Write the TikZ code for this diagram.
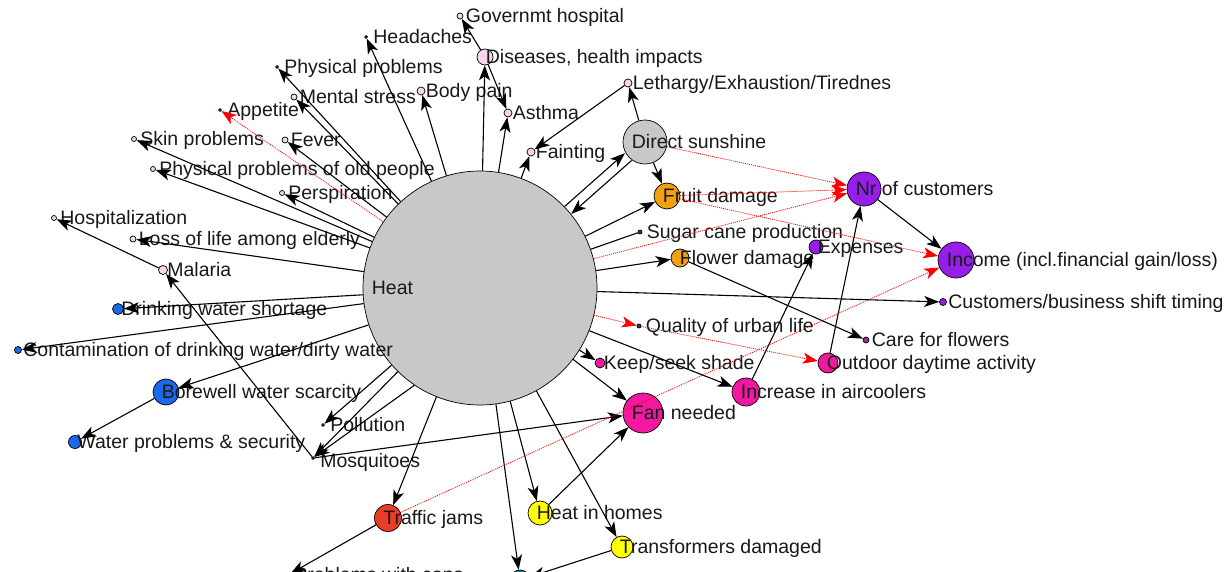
\documentclass[tikz,border=0pt]{standalone}
\usepackage{fontspec}
\setmainfont{Liberation Sans}
\usetikzlibrary{arrows.meta}
\definecolor{heatgray}{RGB}{200,200,200}
\definecolor{pinkish}{RGB}{246,214,234}
\definecolor{dotgray}{RGB}{60,60,60}
\definecolor{fruitorange}{RGB}{240,160,16}
\definecolor{custpurple}{RGB}{150,30,232}
\definecolor{fanpink}{RGB}{242,24,160}
\definecolor{waterblue}{RGB}{28,104,232}
\definecolor{trafficred}{RGB}{236,60,40}
\definecolor{homeyellow}{RGB}{255,255,0}
\definecolor{tealnode}{RGB}{0,130,130}
\definecolor{carepurple}{RGB}{160,40,150}
\tikzset{
  vtx/.style={circle, draw=black, line width=0.7pt, inner sep=0pt, minimum size=#1},
  lbl/.style={anchor=west, xshift=9pt, inner sep=0pt, text height=13.8pt, text depth=0pt,
    text=black!90, font=\fontsize{19.5}{22}\selectfont},
  imp/.style={line width=1.1pt, -{Stealth[length=15pt,width=11pt,inset=4pt]}},
  weak/.style={red, line width=0.8pt, dash pattern=on 1pt off 1pt,
    -{Stealth[length=15pt,width=11pt,inset=4pt]}}
}
\begin{document}
\begin{tikzpicture}[x=1pt,y=-1pt]
  \useasboundingbox (0,0) rectangle (1232,572);
  \clip (0,0) rectangle (1232,572);
  \fill[white] (0,0) rectangle (1232,572);
  % concepts
  \node[vtx=234, fill=heatgray, label={[lbl]west:Heat}] (heat) at (480,288) {};
  \node[vtx=6, fill=pinkish, label={[lbl]west:Governmt hospital}] (govhosp) at (460,16) {};
  \node[vtx=3, fill=dotgray, label={[lbl]west:Headaches}] (headache) at (366,37) {};
  \node[vtx=3, fill=dotgray, label={[lbl]west:Physical problems}] (physprob) at (277,67) {};
  \node[vtx=16, fill=pinkish, label={[lbl]west:Diseases, health impacts}] (diseases) at (485,57) {};
  \node[vtx=8, fill=pinkish, label={[lbl]west:Lethargy/Exhaustion/Tirednes}] (lethargy) at (628,83) {};
  \node[vtx=6, fill=pinkish, label={[lbl]west:Mental stress}] (mental) at (294,97) {};
  \node[vtx=8, fill=pinkish, label={[lbl]west:Body pain}] (bodypain) at (421,91) {};
  \node[vtx=3, fill=dotgray, label={[lbl]west:Appetite}] (appetite) at (220,110) {};
  \node[vtx=8, fill=pinkish, label={[lbl]west:Asthma}] (asthma) at (508,113) {};
  \node[vtx=5, fill=pinkish, label={[lbl]west:Skin problems}] (skin) at (134,139) {};
  \node[vtx=6, fill=pinkish, label={[lbl]west:Fever}] (fever) at (285,140) {};
  \node[vtx=8, fill=pinkish, label={[lbl]west:Fainting}] (fainting) at (531,152) {};
  \node[vtx=44, fill=heatgray, label={[lbl]west:Direct sunshine}] (direct) at (645,142) {};
  \node[vtx=5, fill=pinkish, label={[lbl]west:Physical problems of old people}] (oldpeople) at (153,169) {};
  \node[vtx=5, fill=pinkish, label={[lbl]west:Perspiration}] (perspir) at (282,193) {};
  \node[vtx=26, fill=fruitorange, label={[lbl]west:Fruit damage}] (fruit) at (667,196) {};
  \node[vtx=34, fill=custpurple, label={[lbl]west:Nr of customers}] (nrcust) at (864,189) {};
  \node[vtx=5, fill=pinkish, label={[lbl]west:Hospitalization}] (hospital) at (54,218) {};
  \node[vtx=4, fill=dotgray, label={[lbl]west:Sugar cane production}] (sugar) at (640,232) {};
  \node[vtx=6, fill=pinkish, label={[lbl]west:Loss of life among elderly}] (lossoflife) at (133,239) {};
  \node[vtx=14, fill=custpurple, label={[lbl]west:Expenses}] (expenses) at (816,247) {};
  \node[vtx=18, fill=fruitorange, label={[lbl]west:Flower damage}] (flower) at (680,258) {};
  \node[vtx=36, fill=custpurple, label={[lbl]west:Income (incl.financial gain/loss)}] (income) at (956,260) {};
  \node[vtx=9, fill=pinkish, label={[lbl]west:Malaria}] (malaria) at (163,270) {};
  \node[vtx=7, fill=custpurple, label={[lbl]west:Customers/business shift timing}] (shift) at (943,302) {};
  \node[vtx=11, fill=waterblue, label={[lbl]west:Drinking water shortage}] (drinkwater) at (118,309) {};
  \node[vtx=4, fill=dotgray, label={[lbl]west:Quality of urban life}] (quality) at (639,326) {};
  \node[vtx=6, fill=carepurple, label={[lbl]west:Care for flowers}] (care) at (866,340) {};
  \node[vtx=7, fill=waterblue, label={[lbl]west:Contamination of drinking water/dirty water}] (contam) at (18,350) {};
  \node[vtx=10, fill=fanpink, label={[lbl]west:Keep/seek shade}] (keepshade) at (600,363) {};
  \node[vtx=20, fill=fanpink, label={[lbl]west:Outdoor daytime activity}] (outdoor) at (828,363) {};
  \node[vtx=26, fill=waterblue, label={[lbl]west:Borewell water scarcity}] (borewell) at (166,392) {};
  \node[vtx=28, fill=fanpink, label={[lbl]west:Increase in aircoolers}] (aircool) at (746,392) {};
  \node[vtx=40, fill=fanpink, label={[lbl]west:Fan needed}] (fan) at (643,413) {};
  \node[vtx=3, fill=dotgray, label={[lbl]west:Pollution}] (pollution) at (323,425) {};
  \node[vtx=13, fill=waterblue, label={[lbl]west:Water problems \& security}] (waterprob) at (75,442) {};
  \node[vtx=3, fill=dotgray, label={[lbl,yshift=-3pt]west:Mosquitoes}] (mosquito) at (313,458) {};
  \node[vtx=24, fill=homeyellow, label={[lbl]west:Heat in homes}] (heathomes) at (540,513) {};
  \node[vtx=27, fill=trafficred, label={[lbl]west:Traffic jams}] (traffic) at (388,518) {};
  \node[vtx=22, fill=homeyellow, label={[lbl]west:Transformers damaged}] (transf) at (622,547) {};
  \node[vtx=5, fill=dotgray, label={[lbl]west:Problems with cops}] (cops) at (288,575) {};
  \node[vtx=20, fill=tealnode] (grid) at (520,580) {};
  % links out of Heat
  \foreach \t in {headache,physprob,mental,bodypain,diseases,asthma,fainting,skin,fever,
      oldpeople,perspir,lossoflife,drinkwater,contam,borewell,pollution,mosquito,traffic,
      grid,heathomes,transf,fan,keepshade,aircool,shift,flower,fruit}
    \draw[imp] (heat) -- (\t);
  \draw[imp] (heat.236) -- (mosquito);
  \draw[line width=1.1pt] (heat) -- (sugar);
  \draw[imp, transform canvas={shift={(-3.3pt,3.7pt)}}] (heat) -- (direct);
  \draw[imp, transform canvas={shift={(3.3pt,-3.7pt)}}] (direct) -- (heat);
  % other links
  \draw[imp] (diseases) -- (govhosp);
  \draw[imp] (diseases) -- (asthma);
  \draw[imp] (direct) -- (lethargy);
  \draw[imp] (lethargy) -- (fainting);
  \draw[imp] (direct) -- (fruit);
  \draw[imp] (flower) -- (care);
  \draw[imp] (aircool) -- (expenses);
  \draw[imp] (outdoor) -- (nrcust);
  \draw[imp] (nrcust) -- (income);
  \draw[imp] (malaria) -- (hospital);
  \draw[imp] (mosquito) -- (malaria);
  \draw[imp] (mosquito) -- (fan);
  \draw[imp] (borewell) -- (waterprob);
  \draw[imp] (traffic) -- (cops);
  \draw[imp] (heathomes) -- (fan);
  \draw[imp] (transf) -- (grid);
  % negative links
  \draw[weak] (heat) -- (appetite);
  \draw[weak] (heat) -- (nrcust);
  \draw[weak] (direct) -- (nrcust);
  \draw[weak] (fruit) -- (nrcust);
  \draw[weak] (fruit) -- (income);
  \draw[weak] (traffic) -- (income);
  \draw[weak] (heat) -- (quality);
  \draw[weak] (quality) -- (outdoor);
\end{tikzpicture}
\end{document}
